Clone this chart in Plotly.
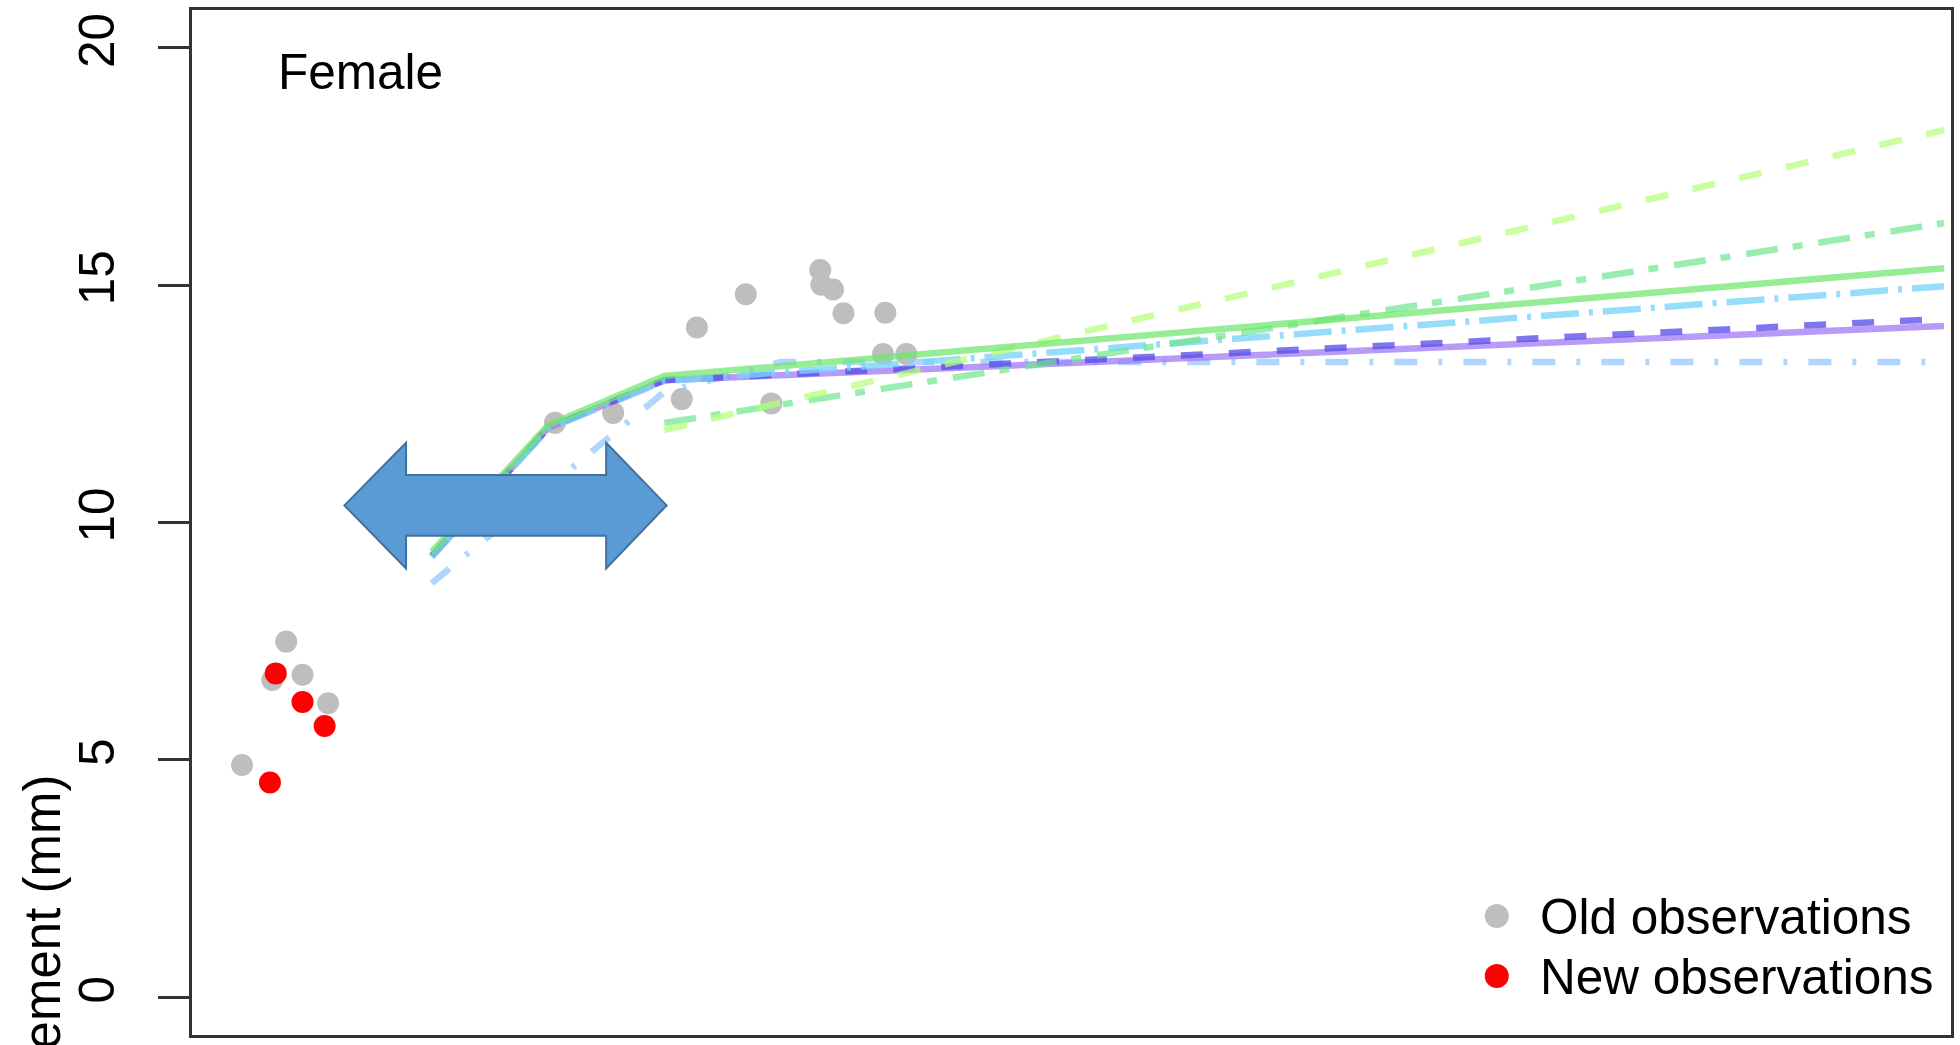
import plotly.graph_objects as go

# ---- observations -------------------------------------------------------
old_age = [-0.63, -0.37, -0.25, -0.11, 0.11,
           2.06, 2.56, 3.15, 3.28, 3.70, 3.92, 4.34, 4.35, 4.45, 4.54, 4.90, 4.88, 5.08]
old_size = [4.89, 6.68, 7.49, 6.79, 6.19,
            12.10, 12.31, 12.60, 14.11, 14.81, 12.51, 15.32, 15.01, 14.91, 14.41, 14.42, 13.55, 13.55]

new_age = [-0.39, -0.34, -0.11, 0.08]
new_size = [4.52, 6.82, 6.22, 5.71]

# ---- fitted growth curves ----------------------------------------------
ages_full = [1, 2, 3, 14]
ages_late = [3, 14]
ages_lb = [1, 2, 3, 4, 14]

fit_purple = [9.29, 11.99, 13.00, 14.14]
fit_blue = [9.29, 11.99, 13.00, 14.29]
fit_cyan = [9.27, 11.97, 12.98, 14.98]
fit_green = [9.38, 12.05, 13.09, 15.36]
fit_lightblue = [8.72, 10.74, 12.75, 13.38, 13.38]
fit_green_dd = [12.10, 16.31]
fit_lime = [11.95, 18.27]

y_ticks = [0, 5, 10, 15, 20]

OLD_COL = "#BEBEBE"
NEW_COL = "#FF0000"
FONT = "Liberation Sans, Arial, sans-serif"
TXT = 49.5

fig = go.Figure()

fig.add_trace(go.Scatter(x=old_age, y=old_size, mode="markers",
                         marker=dict(size=22, color=OLD_COL), showlegend=False))
fig.add_trace(go.Scatter(x=new_age, y=new_size, mode="markers",
                         marker=dict(size=22, color=NEW_COL), showlegend=False))

curves = [
    (ages_lb, fit_lightblue, "rgba(150,200,255,0.75)", "23px,21px,4px,21px"),
    (ages_full, fit_purple, "rgba(160,120,245,0.75)", "solid"),
    (ages_full, fit_blue, "rgba(90,80,235,0.78)", "22px,26px"),
    (ages_full, fit_cyan, "rgba(120,210,250,0.78)", "38px,10px,4px,10px"),
    (ages_late, fit_green_dd, "rgba(110,230,140,0.7)", "32px,15px,10px,16px"),
    (ages_late, fit_lime, "rgba(180,255,120,0.72)", "23px,25px"),
    (ages_full, fit_green, "rgba(110,230,110,0.72)", "solid"),
]
for xs, ys, col, dash in curves:
    fig.add_trace(go.Scatter(x=xs, y=ys, mode="lines",
                             line=dict(color=col, width=6.5, dash=dash),
                             showlegend=False))

# ---- double-headed block arrow -----------------------------------------
ax_l, ax_r = 0.25, 3.02          # tips
hb_l, hb_r = 0.78, 2.50          # head bases
ay_mid = 10.36
head_top, head_bot = 11.68, 9.03
shaft_top, shaft_bot = 11.0, 9.72
arrow_path = (
    f"M {ax_l},{ay_mid} L {hb_l},{head_top} L {hb_l},{shaft_top} "
    f"L {hb_r},{shaft_top} L {hb_r},{head_top} L {ax_r},{ay_mid} "
    f"L {hb_r},{head_bot} L {hb_r},{shaft_bot} L {hb_l},{shaft_bot} "
    f"L {hb_l},{head_bot} Z"
)
fig.add_shape(type="path", path=arrow_path, xref="x", yref="y",
              fillcolor="#5B9BD5", line=dict(color="#41719C", width=2),
              layer="above")

# ---- layout -------------------------------------------------------------
W, H = 1960, 1045
ML, MR, MT, MB = 192, 6, 10, 10
PW, PH = W - ML - MR, H - MT - MB


def px_to_paper(px, py):
    return (px - ML) / PW, (H - MB - py) / PH


# legend drawn by hand so the dots keep their full size
legend_rows = [("Old observations", OLD_COL, 916), ("New observations", NEW_COL, 976)]
for label, col, py in legend_rows:
    cx, cy = px_to_paper(1499, py)
    tx, _ = px_to_paper(1540, py)
    fig.add_shape(type="circle", xref="paper", yref="paper",
                  xsizemode="pixel", ysizemode="pixel",
                  xanchor=cx, yanchor=cy, x0=-12, x1=12, y0=-12, y1=12,
                  fillcolor=col, line=dict(width=0))
    fig.add_annotation(text=label, xref="paper", yref="paper", x=tx, y=cy,
                       xanchor="left", yanchor="middle", showarrow=False,
                       font=dict(family=FONT, size=TXT, color="black"))

fx, fy = px_to_paper(276, 71)
fig.add_annotation(text="Female", xref="paper", yref="paper", x=fx, y=fy,
                   xanchor="left", yanchor="middle", showarrow=False,
                   font=dict(family=FONT, size=TXT, color="black"))

_, ty = px_to_paper(0, 773)
fig.add_annotation(text="Measurement (mm)", xref="paper", yref="paper",
                   x=0, xshift=-150, y=ty, xanchor="center", yanchor="top",
                   textangle=-90, showarrow=False,
                   font=dict(family=FONT, size=51, color="black"))

fig.update_layout(
    width=W, height=H,
    margin=dict(l=ML, r=MR, t=MT, b=MB, pad=0),
    paper_bgcolor="white", plot_bgcolor="white",
    showlegend=False,
    font=dict(family=FONT, size=TXT, color="black"),
)
fig.update_xaxes(range=[-1.06, 14.06], showgrid=False, zeroline=False,
                 showticklabels=False, ticks="",
                 showline=True, mirror=True, linecolor="#333", linewidth=3)
fig.update_yaxes(range=[-0.8, 20.8], showgrid=False, zeroline=False,
                 tickvals=y_ticks, ticktext=[str(v) for v in y_ticks],
                 tickangle=-90, ticks="outside", ticklen=31, tickwidth=2.5,
                 tickcolor="#333", tickfont=dict(family=FONT, size=TXT),
                 ticklabelstandoff=24,
                 showline=True, mirror=True, linecolor="#333", linewidth=3)

fig.write_html("out.html")
